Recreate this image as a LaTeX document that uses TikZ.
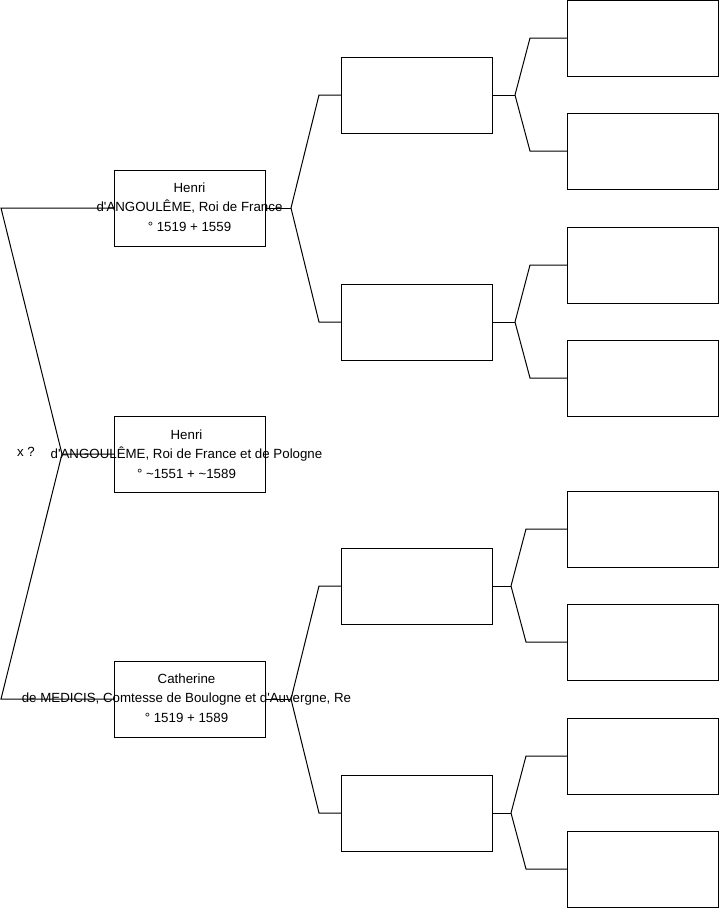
\documentclass[tikz,border=0pt]{standalone}
\usepackage{fontspec}
\newfontfamily\arialf{Liberation Sans}
\begin{document}
\begin{tikzpicture}[x=1pt,y=-1pt,line width=1pt,
  box/.style={draw,minimum width=151pt,minimum height=76pt,inner sep=0pt,outer sep=0pt},
  txt/.style={align=center,font=\arialf\fontsize{13.3}{19.5}\selectfont,inner sep=0pt},
  link/.style={draw,line join=miter}]
\useasboundingbox (0,0) rectangle (719,908);
% column 1
\node[box] (h1) at (189.5,208) {};
\node[box] (h2) at (189.5,454) {};
\node[box] (ca) at (189.5,699) {};
% column 2
\node[box] (p1) at (416.5,95) {};
\node[box] (p2) at (416.5,322) {};
\node[box] (p3) at (416.5,586) {};
\node[box] (p4) at (416.5,813) {};
% column 3
\node[box] (g1) at (643,38) {};
\node[box] (g2) at (643,151) {};
\node[box] (g3) at (643,265) {};
\node[box] (g4) at (643,378) {};
\node[box] (g5) at (643,529) {};
\node[box] (g6) at (643,642) {};
\node[box] (g7) at (643,756) {};
\node[box] (g8) at (643,869) {};
% left fork
\coordinate (la) at (1,208);
\coordinate (lb) at (62,454);
\coordinate (lc) at (1,699);
\draw[link] (h1.west) -- (la) -- (lb) -- (h2.west);
\draw[link] (lb) -- (lc) -- (ca.west);
% column 1 -> column 2
\coordinate (f1) at (291,208);
\coordinate (f1a) at (319,95);
\coordinate (f1b) at (319,322);
\draw[link] (h1.east) -- (f1);
\draw[link] (f1) -- (f1a) -- (p1.west);
\draw[link] (f1) -- (f1b) -- (p2.west);
\coordinate (f2) at (291,699);
\coordinate (f2a) at (319,586);
\coordinate (f2b) at (319,813);
\draw[link] (ca.east) -- (f2);
\draw[link] (f2) -- (f2a) -- (p3.west);
\draw[link] (f2) -- (f2b) -- (p4.west);
% column 2 -> column 3
\coordinate (k1) at (515,95);  \coordinate (k1a) at (530,38);  \coordinate (k1b) at (530,151);
\coordinate (k2) at (515,322); \coordinate (k2a) at (530,265); \coordinate (k2b) at (530,378);
\coordinate (k3) at (511,586); \coordinate (k3a) at (526,529); \coordinate (k3b) at (526,642);
\coordinate (k4) at (511,813); \coordinate (k4a) at (526,756); \coordinate (k4b) at (526,869);
\draw[link] (p1.east) -- (k1);
\draw[link] (k1) -- (k1a) -- (g1.west);
\draw[link] (k1) -- (k1b) -- (g2.west);
\draw[link] (p2.east) -- (k2);
\draw[link] (k2) -- (k2a) -- (g3.west);
\draw[link] (k2) -- (k2b) -- (g4.west);
\draw[link] (p3.east) -- (k3);
\draw[link] (k3) -- (k3a) -- (g5.west);
\draw[link] (k3) -- (k3b) -- (g6.west);
\draw[link] (p4.east) -- (k4);
\draw[link] (k4) -- (k4a) -- (g7.west);
\draw[link] (k4) -- (k4b) -- (g8.west);
% texts
\node[txt] (t1) at ([yshift=1pt]h1.center) {Henri\\d'ANGOULÊME, Roi de France\\° 1519 + 1559};
\node[txt] (t2) at ([xshift=-3pt]h2.center) {Henri\\d'ANGOULÊME, Roi de France et de Pologne\\° \textasciitilde1551 + \textasciitilde1589};
\node[txt] (t3) at ([xshift=-3pt,yshift=1pt]ca.center) {Catherine\\de MEDICIS, Comtesse de Boulogne et d'Auvergne, Re\\° 1519 + 1589};
\node[txt] (x) at (26,452) {x ?};
\end{tikzpicture}
\end{document}
